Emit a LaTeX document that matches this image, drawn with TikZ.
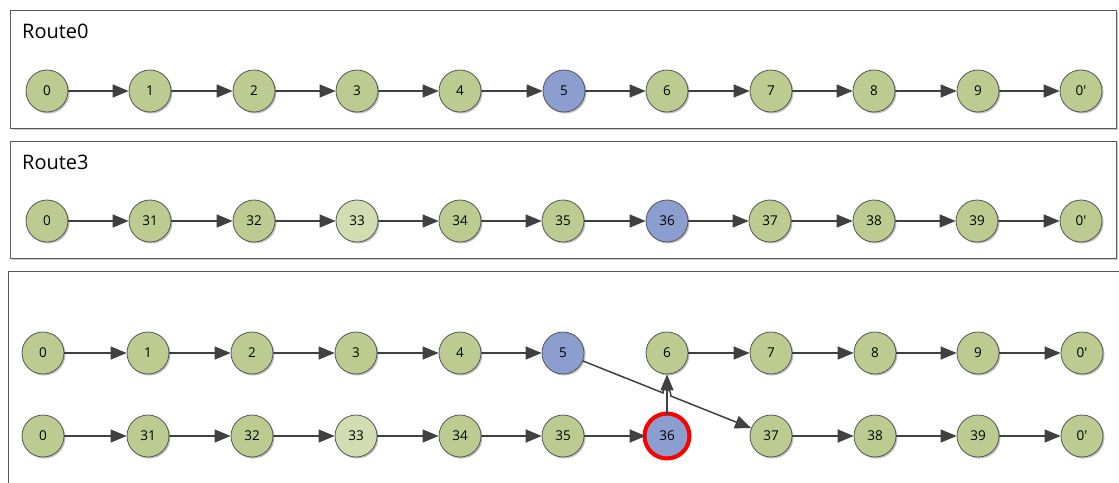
\documentclass[tikz,border=0pt]{standalone}
\usepackage{fontspec}
\setmainfont{Open Sans}
\usetikzlibrary{arrows.meta,calc,shadows}

\definecolor{nodegreen}{HTML}{BCCB8F}
\definecolor{nodepale}{HTML}{D3DDB2}
\definecolor{nodeblue}{HTML}{8C9ECF}
\definecolor{rim}{HTML}{555555}
\definecolor{link}{HTML}{404040}
\definecolor{frame}{HTML}{595959}

\newcommand\depot{0\textquotesingle}

\tikzset{
  stop/.style={circle, draw=rim, line width=0.8pt, fill=nodegreen,
    minimum size=42pt, inner sep=0pt, font=\fontsize{13.5}{13.5}\selectfont,
    drop shadow={shadow xshift=1.5pt, shadow yshift=-1.5pt, opacity=0.25, fill=black}},
  palestop/.style={stop, fill=nodepale},
  bluestop/.style={stop, fill=nodeblue},
  flagged/.style={draw=red, line width=4pt},
  hop/.style={draw=link, line width=1.5pt,
    -{Triangle[length=16pt,width=13pt]}},
  panel/.style={draw=frame, line width=0.9pt, fill=white,
    drop shadow={shadow xshift=1.5pt, shadow yshift=-1.5pt, opacity=0.2, fill=black}},
  title/.style={anchor=base west, font=\fontsize{20}{20}\selectfont, inner sep=0pt}
}

\begin{document}
\begin{tikzpicture}[x=1pt, y=-1pt]
  \useasboundingbox (0,0) rectangle (1119,482);
  \clip (0,0) rectangle (1119,482);
  \fill[white] (0,0) rectangle (1119,482);

  % panels
  \draw[panel] (10,10) rectangle (1116,128);
  \draw[panel] (10,141) rectangle (1116,258);
  \draw[panel] (8,271) rectangle (1130,500);
  \node[title] (t0) at (22,38) {Route0};
  \node[title] (t3) at (22,169) {Route3};

  % Route0
  \foreach \lab/\x/\st [count=\k from 0] in
    {0/47/stop,1/150/stop,2/254/stop,3/357/stop,4/460/stop,5/564/bluestop,
     6/667/stop,7/771/stop,8/874/stop,9/978/stop,\depot/1081/stop}
    \node[\st] (a\k) at (\x,91) {\lab};
  \foreach \k [evaluate=\k as \j using int(\k+1)] in {0,...,9}
    \draw[hop] (a\k) -- (a\j);

  % Route3
  \foreach \lab/\x/\st [count=\k from 0] in
    {0/47/stop,31/150/stop,32/254/stop,33/357/palestop,34/460/stop,35/563/stop,
     36/667/bluestop,37/770/stop,38/874/stop,39/977/stop,\depot/1081/stop}
    \node[\st] (b\k) at (\x,221) {\lab};
  \foreach \k [evaluate=\k as \j using int(\k+1)] in {0,...,9}
    \draw[hop] (b\k) -- (b\j);

  % combined routes
  \foreach \lab/\x/\st [count=\k from 0] in
    {0/43/stop,1/148/stop,2/252/stop,3/356/stop,4/460/stop,5/563/bluestop,
     6/667/stop,7/771/stop,8/875/stop,9/978/stop,\depot/1082/stop}
    \node[\st] (c\k) at (\x,353) {\lab};
  \foreach \lab/\x/\st [count=\k from 0] in
    {0/43/stop,31/148/stop,32/252/stop,33/356/palestop,34/460/stop,35/563/stop,
     36/667/bluestop,37/771/stop,38/875/stop,39/978/stop,\depot/1082/stop}
    \node[\st] (d\k) at (\x,436) {\lab};
  \draw[flagged] (d6) circle (22.5pt);

  \foreach \k [evaluate=\k as \j using int(\k+1)] in {0,...,4,6,7,8,9}
    \draw[hop] (c\k) -- (c\j);
  \foreach \k [evaluate=\k as \j using int(\k+1)] in {0,...,5,7,8,9}
    \draw[hop] (d\k) -- (d\j);

  % 36 feeds 6, and 5 jumps over it to 37
  \draw[hop] (d6) -- (c6);
  \draw[hop] (c5) -- ($(c5)!0.481!(d7)$)
    .. controls ($(c5)!0.481!(d7)+(0,-8)$) and ($(c5)!0.519!(d7)+(0,-8)$)
    .. ($(c5)!0.519!(d7)$) -- (d7);
\end{tikzpicture}
\end{document}
